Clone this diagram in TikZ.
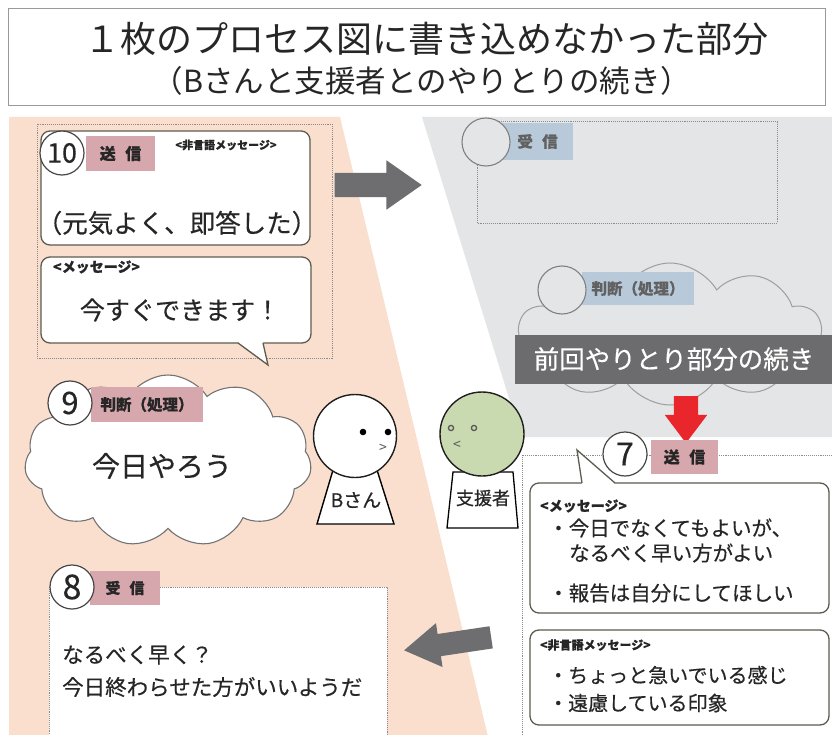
\documentclass[tikz,border=0pt]{standalone}
\usepackage{fontspec}
\setmainfont{Noto Sans CJK JP}[FakeBold=0.4]
\newfontfamily\headfont{Noto Sans CJK JP}
\usetikzlibrary{shapes.symbols,shapes.arrows}

\definecolor{peach}{RGB}{250,223,206}
\definecolor{paleg}{RGB}{228,229,231}
\definecolor{rosetag}{RGB}{214,167,173}
\definecolor{bluetag}{RGB}{184,201,218}
\definecolor{inkc}{RGB}{38,38,38}
\definecolor{framec}{RGB}{92,92,80}
\definecolor{dotc}{RGB}{140,140,140}
\definecolor{arrowgray}{RGB}{110,110,112}
\definecolor{bannerc}{RGB}{108,108,110}
\definecolor{alertred}{RGB}{232,38,43}
\definecolor{sage}{RGB}{201,217,176}

\begin{document}
\begin{tikzpicture}[x=1pt,y=-1pt,
  txt/.style={inner sep=0pt, text=inkc},
  dotframe/.style={draw=dotc, densely dotted, line width=0.9pt},
  panel/.style={draw=framec, line width=1.3pt, rounded corners=9pt, fill=white},
  tailline/.style={draw=framec, line width=1.3pt},
  numring/.style={circle, draw=black!72, line width=1.2pt, fill=white,
    minimum size=44pt, inner sep=0pt, text=inkc},
  ghostring/.style={circle, draw=black!50, line width=1.1pt, fill=paleg,
    minimum size=48pt, inner sep=0pt},
  rosetab/.style={fill=rosetag, inner sep=0pt, minimum height=35pt, text=inkc,
    font=\fontsize{16}{18}\selectfont\bfseries},
  bluetab/.style={fill=bluetag, inner sep=0pt, minimum height=35pt, text=black!62,
    font=\fontsize{15.5}{18}\selectfont\bfseries},
  blockarrow/.style={single arrow, draw=none, single arrow head indent=0pt},
  person/.style={circle, draw=black!88, line width=1.4pt, inner sep=0pt}
]
\useasboundingbox (0,0) rectangle (832,735);
\clip (0,0) rectangle (832,735);
\fill[white] (0,0) rectangle (832,735);

% background bands
\fill[peach] (9,117) -- (340,117) -- (490,745) -- (9,745) -- cycle;
\fill[paleg] (422,117) -- (832,117) -- (832,437) -- (521,437) -- cycle;

% title
\node[draw=black!40, line width=0.8pt, minimum width=817pt, minimum height=97pt,
  inner sep=0pt] (titlebox) at (416.5,56.5) {};
\node[txt, font=\headfont\fontsize{36}{42}\selectfont] (title1) at (426,39)
  {１枚のプロセス図に書き込めなかった部分};
\node[txt, font=\headfont\fontsize{30.5}{36}\selectfont] (title2) at (422,81)
  {（Bさんと支援者とのやりとりの続き）};

% arrow from step 10 to the next reception
\node[blockarrow, fill=arrowgray, minimum height=87pt, inner sep=12pt,
  single arrow head extend=12.5pt, single arrow tip angle=70] (toNext) at (369.5,185) {};

% ---- step 10 : sending ----
\draw[dotframe] (37,124) rectangle (332,358);
\draw[panel] (41,131) rectangle (310,245);
\node[rosetab, minimum width=69pt] (tab10) at (120.5,153.5) {送\hspace{0.6em}信};
\node[numring, font=\fontsize{27}{30}\selectfont] (ring10) at (62,153) {10};
\node[txt, font=\fontsize{11}{13}\selectfont\bfseries] (nv10) at (226,145) {<非言語メッセージ>};
\node[txt, font=\fontsize{25.5}{30}\selectfont] (act10) at (177,223) {（元気よく、即答した）};

\draw[panel] (41,257) rectangle (311,343);
\draw[white, line width=2.6pt] (239.2,343) -- (262.2,343);
\fill[white] (238,342) -- (268,365) -- (263,342) -- cycle;
\draw[tailline] (238,343) -- (268,365) -- (263,343);
\node[txt, anchor=west, font=\fontsize{14}{16}\selectfont\bfseries] (msg10) at (53,267) {<メッセージ>};
\node[txt, font=\fontsize{25}{30}\selectfont] (say10) at (180,310) {今すぐできます！};

% ---- previous exchange (grey band) ----
\draw[dotframe] (477,121) rectangle (777,223);
\node[bluetab, minimum width=71pt, minimum height=37pt] (tabRecv) at (537.5,141.5) {受\hspace{0.6em}信};
\node[ghostring] (ringRecv) at (486,142) {};

\node[cloud, cloud puffs=10, cloud puff arc=120, cloud ignores aspect,
  minimum width=304pt, minimum height=142pt, draw=black!38, line width=1pt,
  fill=paleg] (thoughtPrev) at (670,334) {};
\node[bluetab, minimum width=112pt, minimum height=33pt] (tabJudge) at (638,288.5) {判断（処理）};
\node[ghostring] (ringJudge) at (562,290) {};

\node[fill=bannerc, minimum width=330pt, minimum height=49pt, inner sep=0pt,
  anchor=west] (banner) at (515,359.5) {};
\node[txt, text=white, font=\fontsize{25.5}{30}\selectfont] (bannertext) at (674,359)
  {前回やりとり部分の続き};

\node[blockarrow, fill=alertred, rotate=270, minimum height=47pt, inner sep=12pt,
  single arrow head extend=9pt, single arrow tip angle=74] (downArrow) at (686,411.5) {};

% ---- step 9 : judgement ----
\node[cloud, cloud puffs=11, cloud puff arc=115, cloud ignores aspect,
  minimum width=287pt, minimum height=172pt, draw=black!55, line width=1.1pt,
  fill=white] (thought9) at (168,461) {};
\node[rosetab, minimum width=112pt, font=\fontsize{15.5}{18}\selectfont\bfseries] (tab9) at (147,404.5) {判断（処理）};
\node[numring, font=\fontsize{31}{34}\selectfont] (ring9) at (70,403) {9};
\node[txt, font=\fontsize{28}{32}\selectfont] (idea9) at (162,466) {今日やろう};

% ---- B-san ----
\draw[line width=1.4pt, fill=white] (333,470) -- (377,470) -- (394,524) -- (317,524) -- cycle;
\node[person, fill=white, minimum size=83pt] (headB) at (355,436) {};
\fill[black] (363,432) circle (3.3pt) (388,432) circle (3.3pt);
\node[txt, text=black!65, font=\headfont\fontsize{14}{16}\selectfont] (mouthB) at (383,448) {>};
\node[txt, font=\fontsize{19}{22}\selectfont] (nameB) at (356,500) {Bさん};

% ---- supporter ----
\draw[line width=1.3pt, fill=white] (453,472) -- (513,472) -- (518,528) -- (447,528) -- cycle;
\node[person, fill=sage, minimum size=84pt] (headS) at (482,434) {};
\draw[black!65, line width=1.3pt] (451,428) circle (2.6pt) (474,428) circle (2.6pt);
\node[txt, text=black!65, font=\headfont\fontsize{14}{16}\selectfont] (mouthS) at (457,445) {<};
\node[txt, font=\fontsize{18}{21}\selectfont] (nameS) at (483,498) {支援者};

% ---- step 7 : sending ----
\draw[dotframe] (522,455) rectangle (845,760);
\node[rosetab, minimum width=67pt, minimum height=34pt] (tab7) at (684.5,457) {送\hspace{0.6em}信};
\node[numring, font=\fontsize{32}{36}\selectfont] (ring7) at (625,454) {7};

\draw[panel] (530,483) rectangle (829,613);
\draw[white, line width=2.6pt] (583.2,483) -- (613.8,483);
\fill[white] (582,484) -- (577,450) -- (615,484) -- cycle;
\draw[tailline] (582,483) -- (577,450) -- (615,483);
\node[txt, anchor=west, font=\fontsize{14}{16}\selectfont\bfseries] (msg7) at (540,506) {<メッセージ>};
\node[txt, anchor=west, font=\fontsize{20.5}{24}\selectfont] (say7a) at (548,528) {・今日でなくてもよいが、};
\node[txt, anchor=west, font=\fontsize{20.5}{24}\selectfont] (say7b) at (569,553) {なるべく早い方がよい};
\node[txt, anchor=west, font=\fontsize{20.5}{24}\selectfont] (say7c) at (548,593) {・報告は自分にしてほしい};

\draw[panel] (530,630) rectangle (829,725);
\node[txt, anchor=west, font=\fontsize{12}{14}\selectfont\bfseries] (nv7) at (540,645) {<非言語メッセージ>};
\node[txt, anchor=west, font=\fontsize{20}{24}\selectfont] (nv7a) at (548,675) {・ちょっと急いでいる感じ};
\node[txt, anchor=west, font=\fontsize{20}{24}\selectfont] (nv7b) at (548,703) {・遠慮している印象};

% ---- step 8 : reception ----
\draw[dotframe, fill=white] (49,587) rectangle (387,760);
\node[rosetab, minimum width=70pt, minimum height=34pt, font=\fontsize{15}{18}\selectfont\bfseries] (tab8) at (125,588) {受\hspace{0.6em}信};
\node[numring, font=\fontsize{34}{38}\selectfont] (ring8) at (72,587) {8};
\node[txt, anchor=west, font=\fontsize{21.5}{26}\selectfont] (recv8a) at (62,655) {なるべく早く？};
\node[txt, anchor=west, font=\fontsize{21.5}{26}\selectfont] (recv8b) at (62,687) {今日終わらせた方がいいようだ};

% arrow from step 7 back to step 8
\node[blockarrow, fill=arrowgray, rotate=188.5, minimum height=88pt, inner sep=11pt,
  single arrow head extend=11pt, single arrow tip angle=64] (toRecv8) at (456.5,642.5) {};

\end{tikzpicture}
\end{document}
